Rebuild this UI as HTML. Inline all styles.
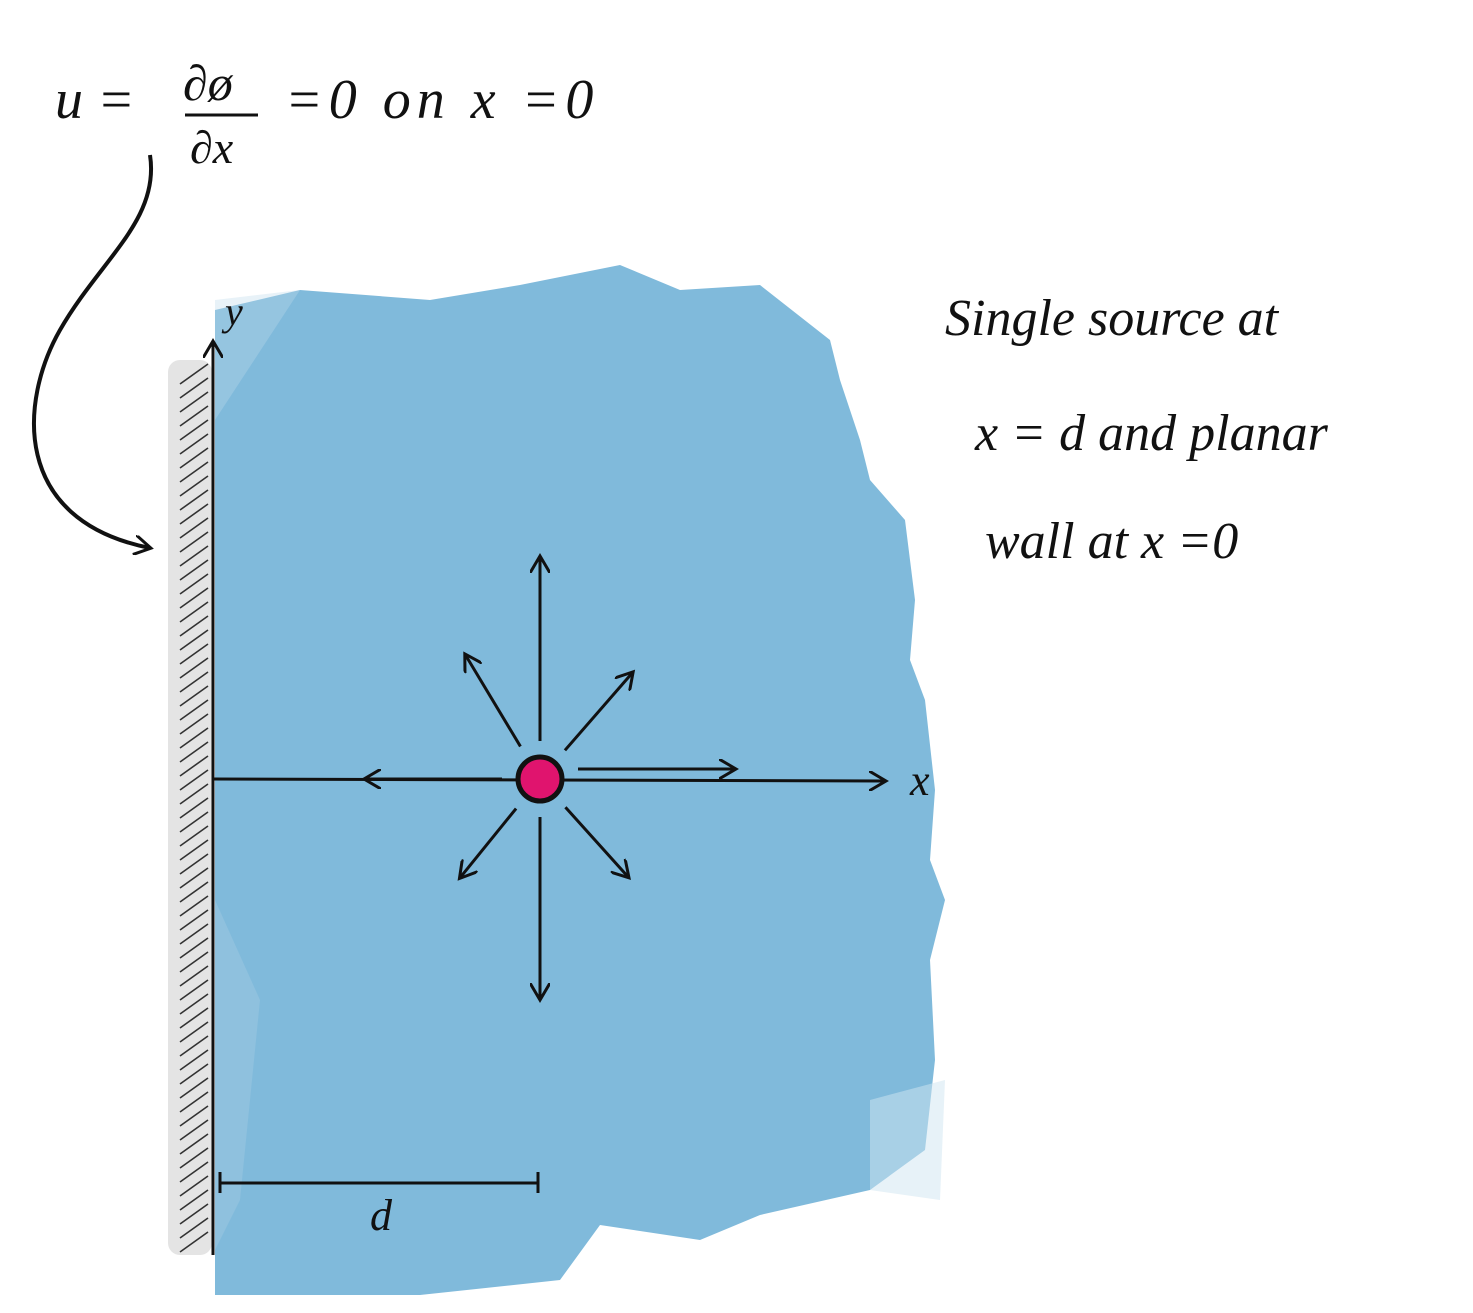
<!DOCTYPE html>
<html><head><meta charset="utf-8"><style>
html,body{margin:0;padding:0;background:#fff;}
svg{display:block;}
text{font-family:"Liberation Serif",serif;font-style:italic;fill:#111;}
</style></head><body>
<svg width="1473" height="1313" viewBox="0 0 1473 1313">
<defs>
<marker id="ah2" markerWidth="20" markerHeight="20" refX="16" refY="10" orient="auto" markerUnits="userSpaceOnUse">
<path d="M0,0 L17,10 L0,20" fill="none" stroke="#111" stroke-width="3"/>
</marker>
</defs>
<g>
<path d="M215,310 L300,290 L430,300 L520,285 L620,265 L680,290 L760,285 L830,340 L840,380 L860,440 L870,480 L905,520 L915,600 L910,660 L925,700 L935,790 L930,860 L945,900 L930,960 L935,1060 L925,1150 L870,1190 L760,1215 L700,1240 L600,1225 L560,1280 L420,1295 L215,1295 Z" fill="#80badb"/>
<path d="M215,300 L300,290 L215,420 Z" fill="#bcdaec" opacity="0.35"/>
<path d="M215,900 L260,1000 L240,1200 L215,1250 Z" fill="#a6cde4" opacity="0.4"/>
<path d="M870,1100 L945,1080 L940,1200 L870,1190 Z" fill="#cfe5f1" opacity="0.5"/>
</g>
<g>
<rect x="168" y="360" width="44" height="895" rx="12" fill="#e4e4e4"/>
<g stroke="#333" stroke-width="1.6" id="hatch"></g>
</g>
<g stroke="#111" fill="none">
<line x1="213" y1="1255" x2="213" y2="342" stroke-width="3" marker-end="url(#ah2)"/>
<line x1="213" y1="779" x2="885" y2="781" stroke-width="3" marker-end="url(#ah2)"/>
</g>
<text x="225" y="325" font-size="40">y</text>
<text x="910" y="795" font-size="44">x</text>
<g id="arrows" stroke="#111" stroke-width="3" fill="none"></g>
<circle cx="540" cy="779" r="22" fill="#e0146e" stroke="#111" stroke-width="5"/>
<g stroke="#111" stroke-width="3">
<line x1="220" y1="1183" x2="538" y2="1183"/>
<line x1="220" y1="1172" x2="220" y2="1193"/>
<line x1="538" y1="1172" x2="538" y2="1193"/>
</g>
<text x="370" y="1230" font-size="44">d</text>
<g>
<text x="55" y="118" font-size="56">u =</text>
<text x="183" y="100" font-size="50">∂ø</text>
<line x1="185" y1="115" x2="258" y2="115" stroke="#111" stroke-width="3"/>
<text x="190" y="163" font-size="46">∂x</text>
<text x="285" y="118" font-size="56" letter-spacing="6">=0  on  x =0</text>
</g>
<path d="M150,155 C160,220 100,260 60,330 C20,400 10,520 150,548" fill="none" stroke="#111" stroke-width="4" marker-end="url(#ah2)"/>
<g font-size="52">
<text x="945" y="335">Single source at</text>
<text x="975" y="450">x = d  and planar</text>
<text x="985" y="558">wall at  x =0</text>
</g>
<script>
const arrowAngles=[0,49,121,180,231,270,312,90];
const arrowLens=[195,141,145,175,127,220,132,222];
const h=document.getElementById('hatch');
for(let y=370;y<1245;y+=14){
const l=document.createElementNS('http://www.w3.org/2000/svg','line');
l.setAttribute('x1',180);l.setAttribute('y1',y+14);l.setAttribute('x2',208);l.setAttribute('y2',y-6);


h.appendChild(l);}
const g=document.getElementById('arrows');
const cx=540,cy=779;
arrowAngles.forEach((a,i)=>{
const r=a*Math.PI/180,s=38,e=arrowLens[i];
const c=Math.cos(r),sn=-Math.sin(r);
const l=document.createElementNS('http://www.w3.org/2000/svg','line');
l.setAttribute('x1',cx+c*s);l.setAttribute('y1',cy+sn*s-(a===0?10:0));
l.setAttribute('x2',cx+c*e);l.setAttribute('y2',cy+sn*e-(a===0?10:0));
l.setAttribute('marker-end','url(#ah2)');


g.appendChild(l);});
</script>
</svg>
</body></html>
